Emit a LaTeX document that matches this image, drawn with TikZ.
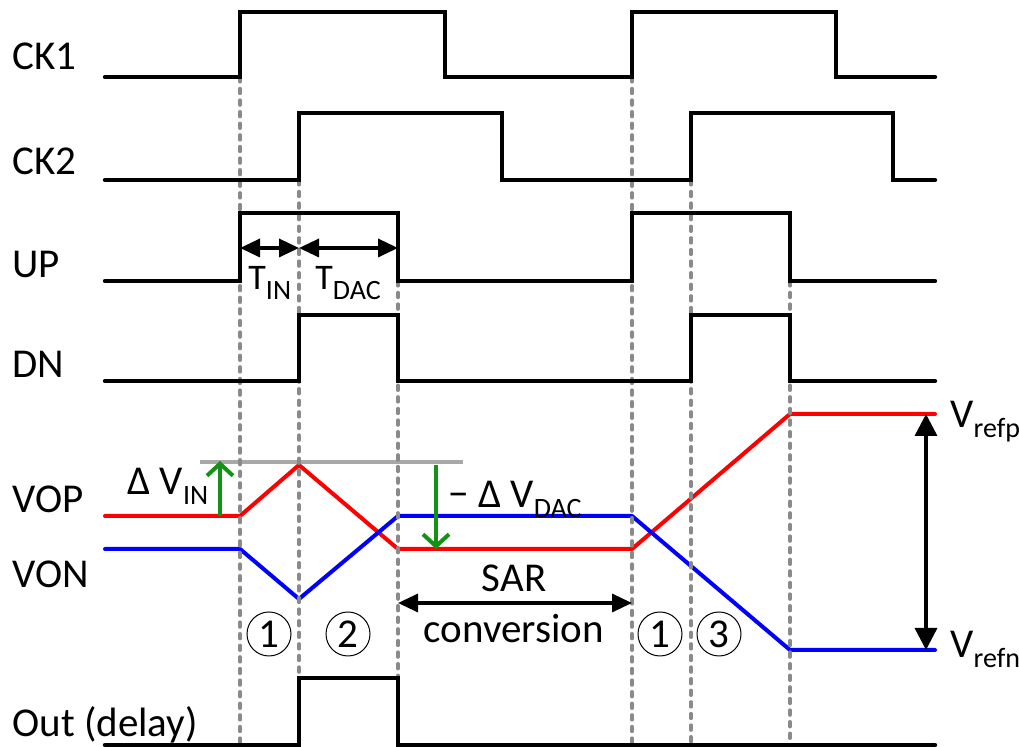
\documentclass[tikz,border=0pt]{standalone}
\usepackage{fontspec}
\setmainfont{Carlito}
\usetikzlibrary{arrows.meta}
\definecolor{SigRed}{HTML}{FF0000}
\definecolor{SigBlue}{HTML}{0000FF}
\definecolor{DeltaGreen}{HTML}{139313}
\definecolor{EdgeGray}{HTML}{8A8A8A}
\definecolor{LevelGray}{HTML}{A8A8A8}
\newcommand{\subtxt}[1]{\raisebox{-5pt}{\fontsize{14}{16}\selectfont #1}}

\begin{document}
\begin{tikzpicture}[x=0.5pt, y=-0.5pt,
    font=\fontsize{20.5}{24}\selectfont,
    wave/.style={line width=2.2pt, line cap=round, line join=miter},
    vop/.style={SigRed, line width=2pt, line cap=round, line join=round},
    von/.style={SigBlue, line width=2pt, line cap=round, line join=round},
    edge/.style={EdgeGray, line width=1.8pt, line cap=round, dash pattern=on 2.4pt off 3.4pt},
    span/.style={line width=1.7pt, {Triangle[length=10pt, width=9pt]}-{Triangle[length=10pt, width=9pt]}},
    delta/.style={DeltaGreen, line width=2pt, -{Straight Barb[length=6pt, width=13pt]}},
    sig/.style={anchor=base west, inner sep=0pt},
    phase/.style={circle, draw, line width=0.5pt, minimum size=22pt, inner sep=0pt}]
    \useasboundingbox (0,0) rectangle (1019,747);

    % Comparator outputs
    \draw[LevelGray, line width=2pt] (200,462) -- (463,462);
    \draw[vop] (105,516) -- (240,516) -- (299,465) -- (398,549) -- (632,549) -- (790,414) -- (935,414);
    \draw[von] (105,549) -- (240,549) -- (299,599) -- (398,516) -- (632,516) -- (790,650) -- (935,650);

    % Edges
    \foreach \x/\y in {240/77, 299/180, 398/281, 632/77, 691/180, 790/281}
        \draw[edge] (\x,\y) -- (\x,747);

    % Clocks and control signals
    \draw[wave] (105,77) -| (240,12) -| (445,77) -| (632,12) -| (836,77) -- (935,77);
    \draw[wave] (105,180) -| (299,113) -| (502,180) -| (691,113) -| (893,180) -- (935,180);
    \draw[wave] (105,281) -| (240,213) -| (398,281) -| (632,213) -| (790,281) -- (935,281);
    \draw[wave] (105,381) -| (299,315) -| (398,381) -| (691,315) -| (790,381) -- (935,381);
    \draw[wave] (105,745) -| (299,678) -| (398,745) -- (935,745);

    % Steps
    \draw[delta] (220,516) -- (220,461);
    \draw[delta] (436,465) -- (436,549);
    \draw[span] (240,248) -- (299,248);
    \draw[span] (299,248) -- (398,248);
    \draw[span] (398,603) -- (632,603);
    \draw[line width=1.7pt, {Triangle[length=11pt, width=11pt]}-{Triangle[length=11pt, width=11pt]}] (926,414) -- (926,650);

    % Labels
    \node[sig] (ck1) at (12,70) {CK1};
    \node[sig] (ck2) at (12,175) {CK2};
    \node[sig] (up) at (12,278) {UP};
    \node[sig] (dn) at (12,378) {DN};
    \node[sig] (vop) at (12,513) {VOP};
    \node[sig] (von) at (12,588) {VON};
    \node[sig] (out) at (12,737) {Out (delay)};
    \node[sig, font=\fontsize{18}{20}\selectfont] (tin) at (248,290) {T\subtxt{IN}};
    \node[sig, font=\fontsize{18}{20}\selectfont] (tdac) at (315,290) {T\subtxt{DAC}};
    \node[sig] (dvin) at (127,495) {Δ V\subtxt{IN}};
    \node[sig] (dvdac) at (448,508) {− Δ V\subtxt{DAC}};
    \node[anchor=base, inner sep=0pt] (sar) at (514,592) {SAR};
    \node[anchor=base, inner sep=0pt] (conv) at (514,643) {conversion};
    \node[sig] (vrefp) at (950,428) {V\subtxt{refp}};
    \node[sig] (vrefn) at (950,658) {V\subtxt{refn}};

    % Phases
    \node[phase] (p1) at (269,634) {1};
    \node[phase] (p2) at (348,634) {2};
    \node[phase] (p1b) at (660,634) {1};
    \node[phase] (p3) at (719,634) {3};
\end{tikzpicture}
\end{document}
